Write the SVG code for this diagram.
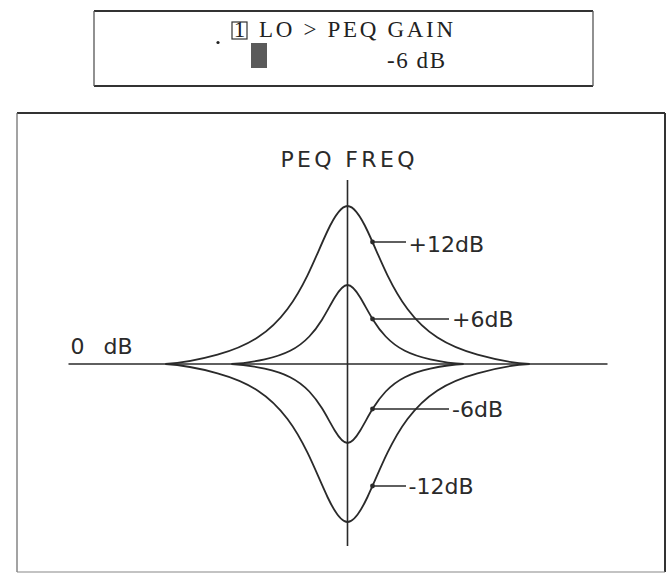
<svg xmlns="http://www.w3.org/2000/svg" width="671" height="577" viewBox="0 0 671 577">
<style>
.curve{fill:none;stroke:#2a2a2a;stroke-width:1.8}
.axis{fill:none;stroke:#2a2a2a;stroke-width:1.6}
.lead{fill:none;stroke:#2a2a2a;stroke-width:1.6}
.dot{fill:#2a2a2a}
.lab{font-family:"DejaVu Sans","Liberation Sans",sans-serif;font-size:22px;fill:#2a2a2a}
.lcd{font-family:"Liberation Serif","DejaVu Serif",serif;font-size:23px;fill:#222}
</style>
<rect width="671" height="577" fill="#fff"/>
<g id="display">
  <line x1="94" y1="11" x2="593" y2="11" stroke="#333" stroke-width="2"/>
  <line x1="94" y1="86" x2="593" y2="86" stroke="#333" stroke-width="2"/>
  <line x1="94" y1="11" x2="94" y2="86" stroke="#555" stroke-width="1.3"/>
  <line x1="593" y1="11" x2="593" y2="86" stroke="#555" stroke-width="1.3"/>
  <circle cx="218" cy="42.5" r="1.6" fill="#222"/>
  <rect x="232" y="22" width="15" height="17" fill="none" stroke="#333" stroke-width="1.2"/>
  <text class="lcd" x="239.5" y="37" font-size="17" text-anchor="middle">1</text>
  <text class="lcd" x="259" y="37" textLength="194" lengthAdjust="spacing">LO &gt; PEQ GAIN</text>
  <rect x="251" y="43" width="16" height="25" fill="#5a5a5a"/>
  <text class="lcd" x="387" y="68" textLength="58" lengthAdjust="spacing">-6 dB</text>
</g>
<g id="graph">
  <line x1="17" y1="113" x2="665" y2="113" stroke="#333" stroke-width="1.8"/>
  <line x1="665" y1="113" x2="665" y2="572" stroke="#333" stroke-width="2"/>
  <line x1="17" y1="113" x2="17" y2="572" stroke="#666" stroke-width="1.2"/>
  <line x1="17" y1="572" x2="665" y2="572" stroke="#888" stroke-width="1.2"/>
  <text class="lab" x="347.5" y="167" font-size="24" text-anchor="middle" textLength="134" lengthAdjust="spacing">PEQ FREQ</text>
  <text class="lab" x="70.5" y="353.5" word-spacing="12">0 dB</text>
  <line class="axis" x1="347.5" y1="180" x2="347.5" y2="546"/>
  <line class="axis" x1="68.5" y1="364" x2="607.5" y2="364"/>
  <path id="outer" class="curve" d="M165.5,364 C182.83,363.1 200.17,359.5 217.5,354.7 C230.83,351 244.17,346.2 257.5,337.6 C267.5,331.1 277.5,322.4 287.5,309 C294.17,300.1 300.83,288.9 307.5,275.3 C314.17,261.7 320.83,245.2 327.5,231 C334.17,216.8 340.83,206 347.5,206 C354.17,206 360.83,216.8 367.5,231 C374.17,245.2 380.83,261.7 387.5,275.3 C394.17,288.9 400.83,300.1 407.5,309 C417.5,322.4 427.5,331.1 437.5,337.6 C450.83,346.2 464.17,351 477.5,354.7 C494.83,359.5 512.17,363.1 529.5,364"/>
  <path id="inner" class="curve" d="M231.57,364 C242.61,363.55 253.65,361.75 264.69,359.35 C273.18,357.5 281.68,355.1 290.17,350.8 C296.54,347.55 302.91,343.2 309.28,336.5 C313.53,332.05 317.77,326.45 322.02,319.65 C326.27,312.85 330.51,304.6 334.76,297.5 C339.01,290.4 343.25,285 347.5,285 C351.75,285 355.99,290.4 360.24,297.5 C364.49,304.6 368.73,312.85 372.98,319.65 C377.23,326.45 381.47,332.05 385.72,336.5 C392.09,343.2 398.46,347.55 404.83,350.8 C413.32,355.1 421.82,357.5 430.31,359.35 C441.35,361.75 452.39,363.55 463.43,364"/>
  <use href="#outer" transform="matrix(1 0 0 -1 0 728)"/>
  <use href="#inner" transform="matrix(1 0 0 -1 0 728)"/>
</g>
<g id="connectors">
  <line class="lead" x1="372.5" y1="242" x2="406" y2="242"/>
  <line class="lead" x1="372.5" y1="319" x2="449" y2="319"/>
  <line class="lead" x1="372.5" y1="409" x2="449" y2="409"/>
  <line class="lead" x1="372.5" y1="486" x2="406" y2="486"/>
  <circle class="dot" cx="372.5" cy="242" r="2.4"/>
  <circle class="dot" cx="372.5" cy="319" r="2.4"/>
  <circle class="dot" cx="372.5" cy="409" r="2.4"/>
  <circle class="dot" cx="372.5" cy="486" r="2.4"/>
</g>
<g id="labels">
  <text class="lab" x="408.5" y="252">+12dB</text>
  <text class="lab" x="452" y="327">+6dB</text>
  <text class="lab" x="452" y="417">-6dB</text>
  <text class="lab" x="408.5" y="494">-12dB</text>
</g>
</svg>
